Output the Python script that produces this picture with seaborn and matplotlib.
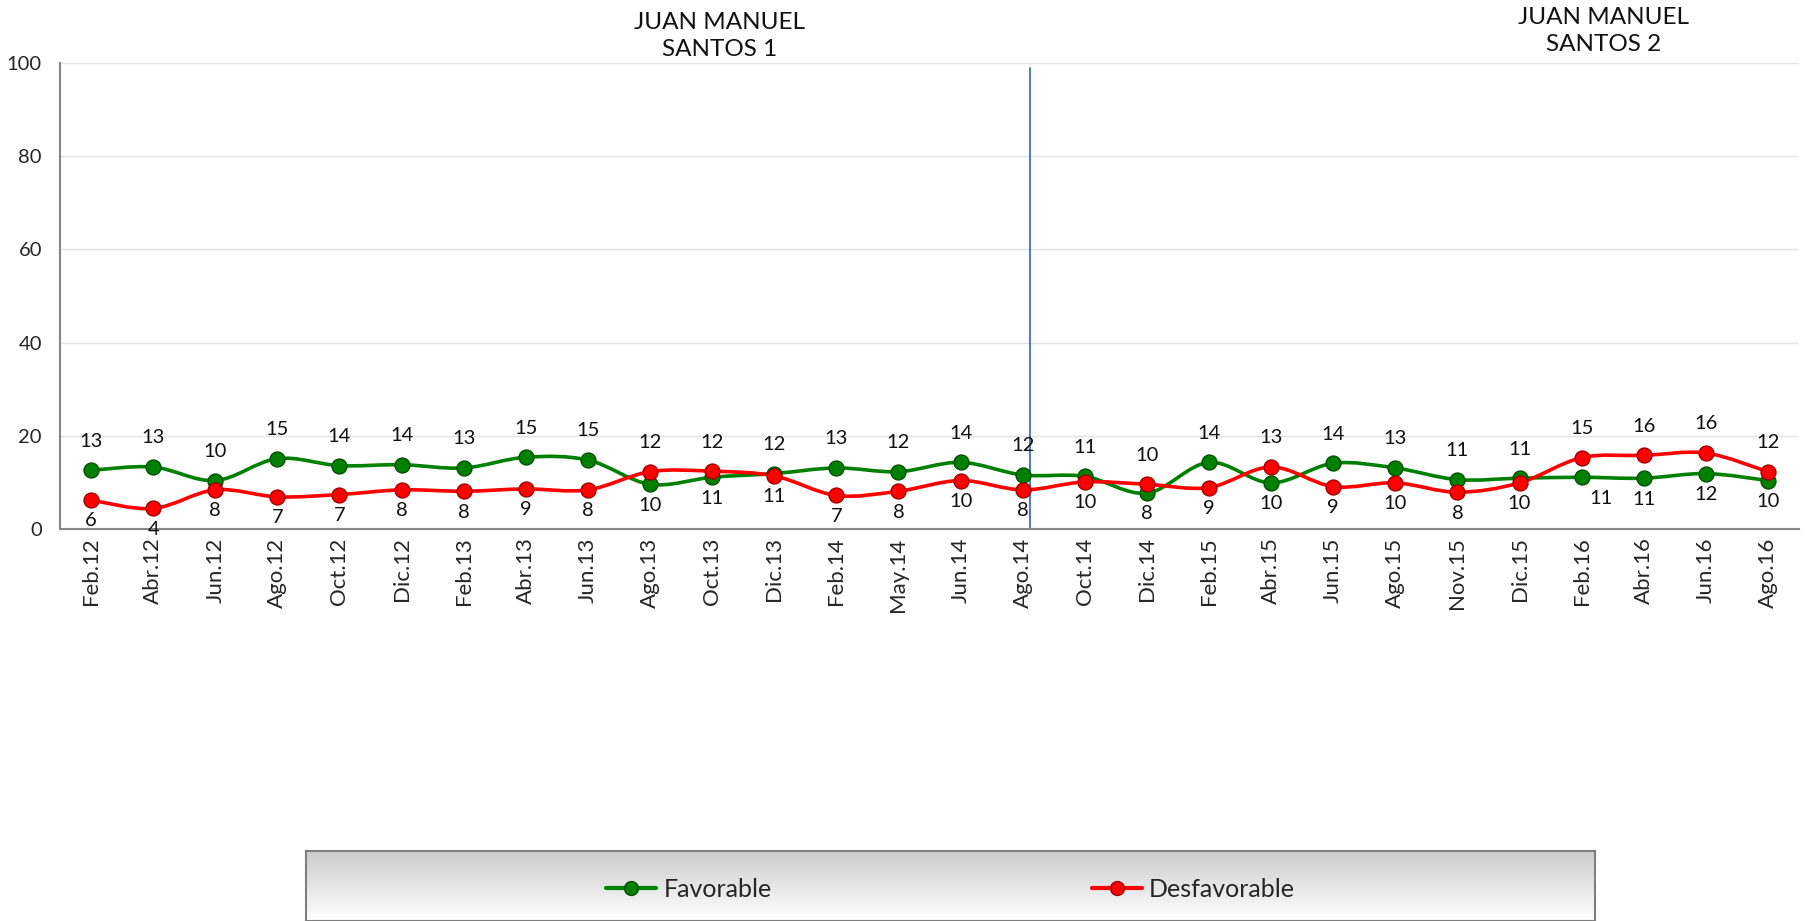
import numpy as np
import pandas as pd
import matplotlib
matplotlib.use("Agg")
import matplotlib.pyplot as plt
import matplotlib.transforms as mtransforms
import seaborn as sns
from matplotlib.path import Path
from matplotlib.patches import PathPatch
from matplotlib.lines import Line2D

categories = ["Feb.12", "Abr.12", "Jun.12", "Ago.12", "Oct.12", "Dic.12", "Feb.13", "Abr.13",
              "Jun.13", "Ago.13", "Oct.13", "Dic.13", "Feb.14", "May.14", "Jun.14", "Ago.14",
              "Oct.14", "Dic.14", "Feb.15", "Abr.15", "Jun.15", "Ago.15", "Nov.15", "Dic.15",
              "Feb.16", "Abr.16", "Jun.16", "Ago.16"]
favorable = [12.6, 13.3, 10.4, 15.1, 13.6, 13.8, 13.1, 15.4, 14.8, 9.6, 11.1, 11.9, 13.1, 12.3,
             14.3, 11.6, 11.3, 7.7, 14.3, 9.9, 14.1, 13.1, 10.6, 10.9, 11.1, 10.9, 11.9, 10.4]
desfavorable = [6.2, 4.4, 8.4, 6.9, 7.4, 8.4, 8.1, 8.6, 8.4, 12.3, 12.4, 11.4, 7.2, 8.1,
                10.4, 8.4, 10.1, 9.6, 8.9, 13.3, 9.1, 9.9, 7.9, 9.9, 15.3, 15.8, 16.3, 12.3]
series_names = ["Favorable", "Desfavorable"]
period_titles = ["JUAN MANUEL\nSANTOS 1", "JUAN MANUEL\nSANTOS 2"]
y_ticks = [0, 20, 40, 60, 80, 100]

sns.set_theme(style="white")
plt.rcParams["font.family"] = ["Lato", "DejaVu Sans"]

W, H = 1808, 921
fig = plt.figure(figsize=(W / 100, H / 100), dpi=100)
ax = fig.add_axes([60 / W, 1 - 529 / H, (1799 - 60) / W, (529 - 63) / H])

n = len(categories)
x = np.arange(n)
df = pd.DataFrame({
    "x": np.concatenate([x, x]),
    "valor": favorable + desfavorable,
    "serie": [series_names[0]] * n + [series_names[1]] * n,
})

colors = {"Favorable": "#008000", "Desfavorable": "#FF0000"}
edges = {"Favorable": "#005000", "Desfavorable": "#A00000"}


def smooth_path(xs, ys):
    pts = np.column_stack([xs, ys]).astype(float)
    verts = [pts[0]]
    codes = [Path.MOVETO]
    for i in range(len(pts) - 1):
        p0 = pts[i - 1] if i > 0 else pts[i]
        p1 = pts[i]
        p2 = pts[i + 1]
        p3 = pts[i + 2] if i + 2 < len(pts) else pts[i + 1]
        c1 = p1 + (p2 - p0) / 6.0
        c2 = p2 - (p3 - p1) / 6.0
        verts += [c1, c2, p2]
        codes += [Path.CURVE4] * 3
    return Path(verts, codes)


# grid
for yt in y_ticks[1:]:
    ax.axhline(yt, color="#e3e3e3", lw=1.0, zorder=0)

for name in series_names:
    sub = df[df["serie"] == name]
    ax.add_patch(PathPatch(smooth_path(sub["x"].values, sub["valor"].values),
                           facecolor="none", edgecolor=colors[name], lw=2.6, zorder=3))
    sns.scatterplot(data=sub, x="x", y="valor", color=colors[name], edgecolor=edges[name],
                    linewidth=1.0, s=115, zorder=4, ax=ax, legend=False)

# data labels
for i in range(n):
    f, d = favorable[i], desfavorable[i]
    hi, lo = (f, d) if f >= d else (d, f)
    ax.annotate(f"{round(hi):d}", (i, hi), xytext=(0, 21), textcoords="offset points",
                ha="center", va="center", fontsize=14.5, color="#111111", zorder=5)
    dx = 14 if categories[i] == "Feb.16" else 0
    ax.annotate(f"{round(lo):d}", (i, lo), xytext=(dx, -15), textcoords="offset points",
                ha="center", va="center", fontsize=14.5, color="#111111", zorder=5)

# vertical separator
ax.plot([15.12, 15.12], [0, 99], color="#4F81BD", lw=1.5, zorder=2)

ax.set_xlim(-0.5, n - 0.5)
ax.set_ylim(0, 100)
ax.set_yticks(y_ticks)
ax.set_xticks(x)
ax.set_xticklabels(categories, rotation=90, fontsize=16)
ax.set_xticks(np.arange(-0.5, n, 1.0), minor=True)
ax.tick_params(axis="x", which="major", length=0, pad=6)
ax.tick_params(axis="x", which="minor", length=9, width=1.2, color="#868686", direction="out")
ax.tick_params(axis="y", length=7, width=1.2, color="#868686", direction="out", labelsize=14.5, pad=6)
ax.set_xlabel("")
ax.set_ylabel("")
for s in ["top", "right"]:
    ax.spines[s].set_visible(False)
for s in ["left", "bottom"]:
    ax.spines[s].set_color("#868686")
    ax.spines[s].set_linewidth(1.5)

# period titles
tr = mtransforms.blended_transform_factory(ax.transData, fig.transFigure)
ax.text(10.12, 1 - 36 / H, period_titles[0], transform=tr,
        ha="center", va="center", fontsize=17.5, linespacing=1.3, color="#111111")
ax.text(24.36, 1 - 31 / H, period_titles[1], transform=tr,
        ha="center", va="center", fontsize=17.5, linespacing=1.3, color="#111111")

# legend box with gradient
lax = fig.add_axes([306 / W, 0, (1595 - 306) / W, 70 / H])
grad = np.linspace(0.80, 1.0, 100).reshape(-1, 1)
lax.imshow(np.dstack([grad, grad, grad]), aspect="auto", extent=[0, 1, 0, 1], origin="upper")
lax.set_xlim(0, 1)
lax.set_ylim(0, 1)
lax.set_xticks([])
lax.set_yticks([])
for s in lax.spines.values():
    s.set_color("#7f7f7f")
    s.set_linewidth(1.5)
handles = [Line2D([0], [0], color=colors[nm], lw=3, marker="o", markersize=10,
                  markerfacecolor=colors[nm], markeredgecolor=edges[nm]) for nm in series_names]
lax.legend(handles, series_names, loc="center", ncol=2, frameon=False, fontsize=18,
           columnspacing=12.8, handlelength=2.0, handletextpad=0.3, bbox_to_anchor=(0.5, 0.45))

fig.savefig("out.png", dpi=100)
